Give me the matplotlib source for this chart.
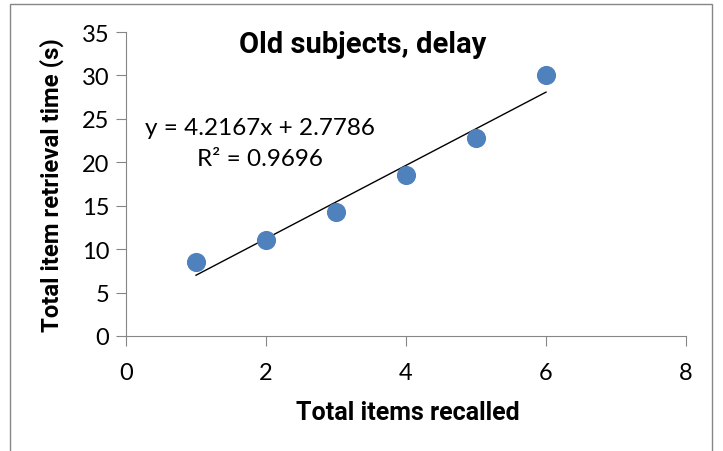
import numpy as np
import matplotlib
matplotlib.use("Agg")
import matplotlib.pyplot as plt
from matplotlib.patches import Rectangle

plt.rcParams["font.family"] = ["Lato", "DejaVu Sans"]
BOLD = ["Roboto", "DejaVu Sans"]

# data
items = [1, 2, 3, 4, 5, 6]
times = [8.5, 11.0, 14.3, 18.5, 22.8, 30.1]
SLOPE, INTERCEPT, R2 = 4.2167, 2.7786, 0.9696

fig = plt.figure(figsize=(7.23, 4.52), dpi=100)
ax = fig.add_axes([126 / 723, 1 - 337 / 452, 560 / 723, 304 / 452])

ax.scatter(items, times, s=190, color="#4F81BD", zorder=3, linewidths=0)
xs = np.array([min(items), max(items)])
ax.plot(xs, SLOPE * xs + INTERCEPT, color="black", lw=1.0, zorder=2)

ax.set_xlim(0, 8); ax.set_ylim(0, 35)
ax.set_xticks(range(0, 9, 2)); ax.set_yticks(range(0, 36, 5))
for s in ["top", "right"]:
    ax.spines[s].set_visible(False)
for s in ["left", "bottom"]:
    ax.spines[s].set_color("#868686")
ax.tick_params(direction="out", length=7, color="#868686", labelsize=17)
ax.tick_params(axis="x", pad=12)
ax.tick_params(axis="y", pad=5)

fig.text(408 / 723, 1 - 413 / 452, "Total items recalled", fontsize=18, fontweight="bold",
         family=BOLD, ha="center", va="center")
fig.text(52 / 723, 1 - 185 / 452, "Total item retrieval time (s)", fontsize=17.2, fontweight="bold",
         family=BOLD, ha="center", va="center", rotation=90)
fig.text(363 / 723, 1 - 45 / 452, "Old subjects, delay", fontsize=21, fontweight="bold",
         family=BOLD, ha="center", va="center")

ax.text(1.92, 22.2, f"y = {SLOPE}x + {INTERCEPT}\nR² = {R2}", fontsize=17.5,
        ha="center", va="center", multialignment="center", linespacing=1.6)

fig.patches.append(Rectangle((10 / 723, -0.05), 702 / 723, 1 - 5 / 452 + 0.05,
                             transform=fig.transFigure, fill=False, ec="#868686", lw=1))

fig.savefig("out.png", dpi=100)
